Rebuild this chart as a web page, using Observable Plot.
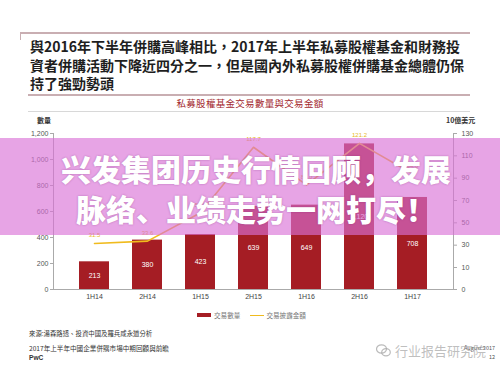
<!DOCTYPE html>
<html><head><meta charset="utf-8">
<script src="https://cdn.jsdelivr.net/npm/d3@7"></script>
<script src="https://cdn.jsdelivr.net/npm/@observablehq/plot@0.6"></script>
<style>
body{margin:0;background:#fff;}
#page{position:relative;width:500px;height:375px;overflow:hidden;background:#fff;font-family:"Noto Sans CJK TC","Noto Sans",sans-serif;}
.abs{position:absolute;white-space:nowrap;}
#intro{left:30px;top:37px;font-size:14px;line-height:18.5px;font-weight:bold;color:#1e1e1e;}
#banner{left:0;top:138px;width:500px;height:97px;background:rgba(218,112,214,0.64);}
#bannerText{left:6px;top:148px;width:500px;text-align:center;color:#fff;font-family:"Noto Sans CJK SC",sans-serif;font-weight:900;font-size:30px;line-height:40px;text-shadow:0 0 2px rgba(110,30,110,0.45);}
#chart{left:0;top:112px;}
</style></head><body><div id="page">
<div class="abs" style="left:20px;top:32px;width:450px;height:0;border-top:2px solid #c9aeb2;"></div>
<div class="abs" style="left:20px;top:32px;width:0;height:8px;border-left:1.5px solid #c9aeb2;"></div>
<div class="abs" style="left:28px;top:94px;width:442px;height:0;border-top:2px solid #c9aeb2;"></div>
<div class="abs" id="intro">與2016年下半年併購高峰相比，2017年上半年私募股權基金和財務投<br>資者併購活動下降近四分之一，但是國內外私募股權併購基金總體仍保<br>持了強勁勢頭</div>
<div class="abs" id="chartTitle" style="left:0;top:97px;width:500px;text-align:center;font-size:9.5px;line-height:12px;color:#a3282e;letter-spacing:0.3px;"></div>
<div class="abs" style="left:28px;top:111px;width:442px;height:0;border-top:1px solid #d8d8d8;"></div>
<div class="abs" id="leftLabel" style="left:37px;top:115px;font-size:7px;font-weight:bold;color:#333;"></div>
<div class="abs" id="rightLabel" style="left:446px;top:115px;font-size:7px;font-weight:bold;color:#333;"></div>
<div class="abs" id="chart"></div>
<div class="abs" id="legend" style="left:197px;top:309px;font-size:6.6px;line-height:12px;color:#777;"></div>
<div class="abs" id="source" style="left:29px;top:329px;font-size:6.4px;color:#333;"></div>
<div class="abs" id="report" style="left:29px;top:344px;font-size:6.6px;line-height:8.5px;color:#333;"></div>
<div class="abs" style="left:464px;top:344px;font-size:5.5px;line-height:8.5px;color:#555;text-align:right;">August 2017<br>12</div>
<div class="abs" id="watermark" style="left:376px;top:342px;font-size:13px;line-height:18px;color:rgba(170,170,170,0.75);"></div>
<div class="abs" id="banner"></div>
<div class="abs" id="bannerText"></div>
</div>
<script>
const periods = ["1H14","2H14","1H15","2H15","1H16","2H16","1H17"];
const dealCounts = [213,380,423,639,649,1120,708];
const dealValues = [31.5,33.6,59.0,117.7,84.0,121.2,94.0];
const leftTicks = [0,200,400,600,800,1000,1200];
const rightTicks = [0,10,30,50,70,90,110,130];
const chartTitle = "私募股權基金交易數量與交易金額";
const leftAxisLabel = "數量";
const rightAxisLabel = "10億美元";
const seriesNames = ["交易數量","交易披露金額"];
const sourceText = "來源:湯森路透、投資中國及羅兵咸永道分析";
const reportLines = ["2017年上半年中國企業併購市場中期回顧與前瞻","PwC"];
const bannerLines = ["兴发集团历史行情回顾，发展","脉络、业绩走势一网打尽！"];
const watermarkText = "行业报告研究院";

const barColor = "#a51d24";
const lineColor = "#f0bb1e";

document.getElementById("chartTitle").textContent = chartTitle;
document.getElementById("leftLabel").textContent = leftAxisLabel;
document.getElementById("rightLabel").textContent = rightAxisLabel;
document.getElementById("source").textContent = sourceText;
document.getElementById("report").innerHTML = reportLines[0] + "<br><b style='font-family:Liberation Sans,sans-serif'>" + reportLines[1] + "</b>";
document.getElementById("bannerText").innerHTML = bannerLines.join("<br>");
document.getElementById("watermark").innerHTML =
  "<svg width='15' height='13' viewBox='0 0 15 13' style='vertical-align:-1px;margin-right:4px'><ellipse cx='5.5' cy='5' rx='5' ry='4.2' fill='none' stroke='rgba(170,170,170,0.8)' stroke-width='1.2'/><ellipse cx='10' cy='8.2' rx='4.3' ry='3.6' fill='none' stroke='rgba(170,170,170,0.8)' stroke-width='1.2'/></svg>" + watermarkText;
document.getElementById("legend").innerHTML =
  `<span style="display:inline-block;width:14px;height:4px;background:${barColor};vertical-align:1px;margin-right:3px"></span>${seriesNames[0]}` +
  `<span style="display:inline-block;width:14px;height:1.5px;background:${lineColor};vertical-align:2px;margin:0 2px 0 10px"></span>${seriesNames[1]}`;

// right (value) axis mapped onto the left (count) scale, piecewise as in the source chart
const toLeft = d3.scaleLinear().domain([0, 10, 130]).range([0, 169.2, 1200]);

const data = periods.map((p, i) => ({period: p, count: dealCounts[i], value: dealValues[i]}));

const chart = Plot.plot({
  width: 500,
  height: 195,
  marginTop: 21,
  marginBottom: 18,
  marginLeft: 53,
  marginRight: 47,
  style: {fontFamily: "Liberation Sans, Arial, sans-serif", fontSize: "7px", color: "#555", background: "transparent"},
  x: {domain: periods, padding: 0.44, label: null},
  y: {domain: [0, 1200], label: null},
  marks: [
    Plot.barY(data, {x: "period", y: "count", fill: barColor}),
    Plot.text(data, {x: "period", y: d => d.count / 2, text: d => d3.format(",")(d.count), fill: "#fff", fontSize: 7}),
    Plot.line(data, {x: "period", y: d => toLeft(d.value), stroke: lineColor, strokeWidth: 1.6}),
    Plot.text(data, {x: "period", y: d => toLeft(d.value), text: d => d.value.toFixed(1), fill: "#e8b820", fontSize: 6, dy: -8}),
    Plot.frame({anchor: "left", stroke: "#aaa"}),
    Plot.frame({anchor: "right", stroke: "#aaa"}),
    Plot.ruleY([0], {stroke: "#aaa"}),
    Plot.axisY(leftTicks, {anchor: "left", tickSize: 3, tickPadding: 2, tickFormat: d3.format(","), label: null, stroke: "#aaa"}),
    Plot.axisY(rightTicks.map(v => toLeft(v)), {anchor: "right", tickSize: 3, tickPadding: 5, tickFormat: (d, i) => String(rightTicks[i]), label: null, stroke: "#aaa"}),
    Plot.axisX({tickSize: 0, tickPadding: 5, label: null, fill: "#444"})
  ]
});
document.getElementById("chart").appendChild(chart);
</script>
</body></html>
